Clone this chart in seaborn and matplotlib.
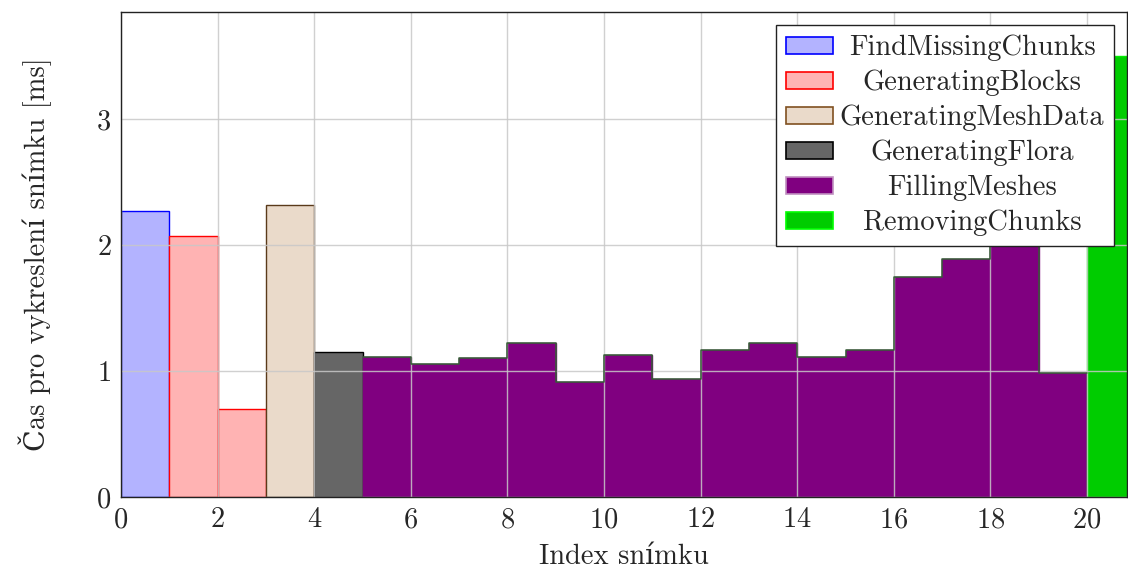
import matplotlib
matplotlib.use("Agg")
import matplotlib.pyplot as plt
import seaborn as sns
import pandas as pd

# ---- data ----
frame_index = list(range(21))
frame_time = [2.27, 2.07, 0.70, 2.32, 1.15, 1.115, 1.055, 1.10, 1.225, 0.915,
              1.125, 0.935, 1.165, 1.225, 1.11, 1.17, 1.75, 1.89, 2.00, 0.985, 3.50]
stage_names = ["FindMissingChunks", "GeneratingBlocks", "GeneratingMeshData",
               "GeneratingFlora", "FillingMeshes", "RemovingChunks"]
frame_stage = (["FindMissingChunks"] + ["GeneratingBlocks"] * 2 + ["GeneratingMeshData"]
               + ["GeneratingFlora"] + ["FillingMeshes"] * 15 + ["RemovingChunks"])
fill_colors = ["#b3b3ff", "#ffb3b3", "#eadaca", "#666666", "#800080", "#00cc00"]
edge_colors = ["#0000ff", "#ff0000", "#5a3a1a", "#000000", "#800080", "#00ee00"]
legend_edges = ["#0000ff", "#ff0000", "#805020", "#000000", "#c090c0", "#00ff00"]
x_ticks = list(range(0, 21, 2))
y_ticks = [0, 1, 2, 3]

df = pd.DataFrame({"pos": [i + 0.5 for i in frame_index], "time": frame_time,
                   "stage": frame_stage})

# outline of the FillingMeshes block (step line on top of the purple bars)
fm_idx = [i for i, s in zip(frame_index, frame_stage) if s == "FillingMeshes"]
fm_val = [v for v, s in zip(frame_time, frame_stage) if s == "FillingMeshes"]
step_df = pd.DataFrame({"x": fm_idx + [fm_idx[-1] + 1], "y": fm_val + [fm_val[-1]]})

sns.set_theme(style="white")
plt.rcParams["font.family"] = ["cmr10", "DejaVu Serif"]
plt.rcParams["axes.formatter.use_mathtext"] = True
plt.rcParams["mathtext.fontset"] = "cm"

FS = 20.5
fig = plt.figure(figsize=(11.28, 5.71), dpi=100)
ax = fig.add_axes([0.1073, 0.1296, 0.8919, 0.8494])

sns.barplot(data=df, x="pos", y="time", hue="stage", hue_order=stage_names,
            palette=dict(zip(stage_names, fill_colors)), native_scale=True,
            dodge=False, width=1, saturation=1, errorbar=None, legend=False, ax=ax,
            zorder=2)

for cont, ec in zip(ax.containers, edge_colors):
    for p in cont.patches:
        p.set_edgecolor(ec)
        p.set_linewidth(1.0)

sns.lineplot(data=step_df, x="x", y="y", drawstyle="steps-post", color="#355e35",
             linewidth=1.1, ax=ax, zorder=3)

ax.set_xlim(0, 20.83)
ax.set_ylim(0, 3.85)
ax.set_xticks(x_ticks)
ax.set_yticks(y_ticks)
ax.grid(True, color="#c8c8c8", linewidth=1.0, alpha=0.85, zorder=4)
ax.set_axisbelow(False)
for s in ax.spines.values():
    s.set_color("#222222")
    s.set_linewidth(1.0)
    s.set_zorder(6)
ax.tick_params(axis="both", direction="in", length=5, color="#888888",
               labelsize=FS, pad=7)
ax.set_xlabel("Index snímku", fontsize=FS, labelpad=8)
ax.set_ylabel("Čas pro vykreslení snímku [ms]", fontsize=FS, labelpad=32)

handles = [plt.Rectangle((0, 0), 1, 1, facecolor=fc, edgecolor=ec, linewidth=1.2)
           for fc, ec in zip(fill_colors, legend_edges)]
leg = ax.legend(handles, stage_names, loc="upper right", fontsize=FS,
                frameon=True, fancybox=False, edgecolor="#222222", framealpha=1,
                handlelength=1.65, handleheight=0.55, handletextpad=0.25,
                labelspacing=0.3, borderpad=0.35, borderaxespad=0.45)
leg.get_frame().set_linewidth(1.0)
leg.set_zorder(7)

# center legend labels like pgfplots
fig.canvas.draw()
r = fig.canvas.get_renderer()
texts = leg.get_texts()
widths = [t.get_window_extent(r).width for t in texts]
mw = max(widths)
for t, w in zip(texts, widths):
    t.set_x((mw - w) / 2)

fig.savefig("out.png", dpi=100)
